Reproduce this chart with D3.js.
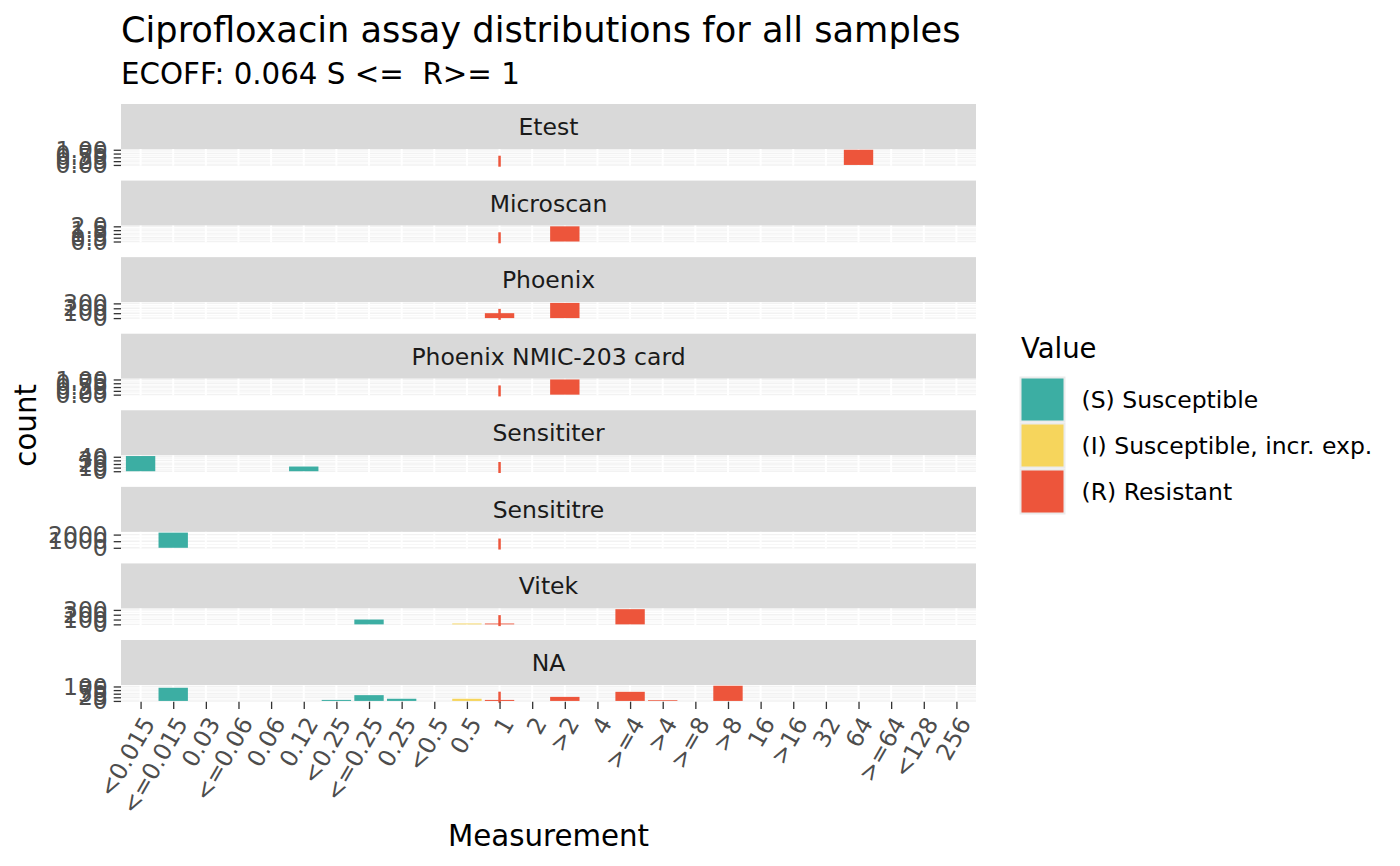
<!DOCTYPE html>
<html>
<head>
<meta charset="utf-8">
<script src="https://cdn.jsdelivr.net/npm/d3@7"></script>
<style>
  body { margin: 0; background: #fff; }
  svg text { font-family: "DejaVu Sans", sans-serif; }
</style>
</head>
<body>
<svg id="chart" width="1400" height="866"></svg>
<script>
"use strict";

// MIC categories on the x axis, in plotted order
const categories = ["<0.015", "<=0.015", "0.03", "<=0.06", "0.06", "0.12", "<0.25",
  "<=0.25", "0.25", "<0.5", "0.5", "1", "2", ">2", "4", ">=4", ">4", ">=8", ">8",
  "16", ">16", "32", "64", ">=64", "<128", "256"];

const assays = ["Etest", "Microscan", "Phoenix", "Phoenix NMIC-203 card",
  "Sensititer", "Sensititre", "Vitek", "NA"];

// counts per assay: [measurement, interpretation, count]
const etestCounts = [["64", "R", 1]];
const microscanCounts = [[">2", "R", 2]];
const phoenixCounts = [["1", "R", 100], [">2", "R", 310]];
const phoenixNmicCounts = [[">2", "R", 1]];
const sensititerCounts = [["<0.015", "S", 42], ["0.12", "S", 13]];
const sensititreCounts = [["<=0.015", "S", 2300]];
const vitekCounts = [["<=0.25", "S", 100], ["0.5", "I", 18], ["1", "R", 18], [">=4", "R", 315]];
const naCounts = [["<=0.015", "S", 91], ["<0.25", "S", 7], ["<=0.25", "S", 40],
  ["0.25", "S", 15], ["0.5", "I", 15], ["1", "R", 7], [">2", "R", 28],
  [">=4", "R", 63], [">4", "R", 5], [">8", "R", 105]];

const assayCounts = [etestCounts, microscanCounts, phoenixCounts, phoenixNmicCounts,
  sensititerCounts, sensititreCounts, vitekCounts, naCounts];

// y tick values and their label format per assay
const yTicks = [[0, 0.25, 0.5, 0.75, 1], [0, 0.5, 1, 1.5, 2], [0, 100, 200, 300],
  [0, 0.25, 0.5, 0.75, 1], [0, 10, 20, 30, 40], [0, 1000, 2000], [0, 100, 200, 300],
  [0, 25, 50, 75, 100]];
const yTickFormats = [".2f", ".1f", "d", ".2f", "d", "d", "d", "d"];

const interpretations = ["S", "I", "R"];
const interpretationLabels = ["(S) Susceptible", "(I) Susceptible, incr. exp.", "(R) Resistant"];
const interpretationColors = ["#3CAEA3", "#F6D55C", "#ED553B"];

const ecoffBreakpoint = "1";

const titleText = "Ciprofloxacin assay distributions for all samples";
const subtitleText = "ECOFF: 0.064 S <=  R>= 1";

// layout
const margins = {left: 121, right: 976, top: 104};
const facetStep = 76.57;
const stripHeight = 45;
const panelHeight = 16.7;

const svg = d3.select("#chart");

const color = d3.scaleOrdinal().domain(interpretations).range(interpretationColors);

const x = d3.scalePoint()
  .domain(categories)
  .range([margins.left, margins.right])
  .padding(0.6);
const barWidth = x.step() * 0.9;

// titles
svg.append("text")
  .attr("x", margins.left).attr("y", 42)
  .style("font-size", "35.2px").attr("fill", "#000")
  .text(titleText);

svg.append("text")
  .attr("x", margins.left).attr("y", 83.5)
  .style("font-size", "29.3px").style("white-space", "pre")
  .attr("xml:space", "preserve").attr("fill", "#000")
  .text(subtitleText);

let lastPanelBottom = 0;

assays.forEach((assay, i) => {
  const stripTop = margins.top + i * facetStep;
  const panelTop = stripTop + stripHeight;
  const panelBottom = panelTop + panelHeight;
  lastPanelBottom = panelBottom;

  const data = assayCounts[i];
  const maxCount = d3.max(data, d => d[2]);

  const y = d3.scaleLinear()
    .domain([-0.05 * maxCount, 1.05 * maxCount])
    .range([panelBottom, panelTop]);

  const g = svg.append("g");

  // strip
  g.append("rect")
    .attr("x", margins.left).attr("y", stripTop)
    .attr("width", margins.right - margins.left).attr("height", stripHeight)
    .attr("fill", "#D9D9D9");

  g.append("text")
    .attr("x", (margins.left + margins.right) / 2)
    .attr("y", stripTop + stripHeight / 2)
    .attr("dy", "0.365em")
    .attr("text-anchor", "middle")
    .style("font-size", "23.5px").attr("fill", "#1A1A1A")
    .text(assay);

  // grid
  const ticks = yTicks[i];
  const minor = ticks.slice(1).map((t, k) => (t + ticks[k]) / 2);

  g.append("g")
    .selectAll("line")
    .data(minor)
    .join("line")
    .attr("x1", margins.left).attr("x2", margins.right)
    .attr("y1", d => y(d)).attr("y2", d => y(d))
    .attr("stroke", "#F7F7F7").attr("stroke-width", 1);

  g.append("g")
    .selectAll("line")
    .data(ticks)
    .join("line")
    .attr("x1", margins.left).attr("x2", margins.right)
    .attr("y1", d => y(d)).attr("y2", d => y(d))
    .attr("stroke", "#F2F2F2").attr("stroke-width", 1.4);

  g.append("g")
    .selectAll("line")
    .data(categories)
    .join("line")
    .attr("x1", d => x(d)).attr("x2", d => x(d))
    .attr("y1", panelTop).attr("y2", panelBottom)
    .attr("stroke", "#FFFFFF").attr("stroke-width", 2);

  // bars
  g.append("g")
    .selectAll("rect")
    .data(data)
    .join("rect")
    .attr("x", d => x(d[0]) - barWidth / 2)
    .attr("width", barWidth)
    .attr("y", d => y(d[2]))
    .attr("height", d => y(0) - y(d[2]))
    .attr("fill", d => color(d[1]));

  // ECOFF line
  g.append("line")
    .attr("x1", x(ecoffBreakpoint)).attr("x2", x(ecoffBreakpoint))
    .attr("y1", panelBottom + 1).attr("y2", panelTop)
    .attr("stroke", "#ED553B").attr("stroke-width", 2.5)
    .attr("stroke-dasharray", "11,11");

  // y axis
  const yAxis = g.append("g")
    .attr("transform", `translate(${margins.left}, 0)`)
    .call(d3.axisLeft(y)
      .tickValues(ticks)
      .tickFormat(d3.format(yTickFormats[i]))
      .tickSize(7.3)
      .tickPadding(5.9));
  yAxis.select(".domain").remove();
  yAxis.selectAll("line").attr("stroke", "#333333").attr("stroke-width", 1.3);
  yAxis.selectAll("text")
    .attr("fill", "#4D4D4D")
    .style("font-size", "23.5px")
    .style("font-family", "DejaVu Sans");
});

// x axis
const xAxis = svg.append("g")
  .attr("transform", `translate(0, ${lastPanelBottom})`)
  .call(d3.axisBottom(x).tickSize(7.3).tickPadding(0));
xAxis.select(".domain").remove();
xAxis.selectAll("line").attr("stroke", "#333333").attr("stroke-width", 1.3);
xAxis.selectAll("text")
  .attr("fill", "#4D4D4D")
  .style("font-size", "23.5px")
  .style("font-family", "DejaVu Sans")
  .attr("text-anchor", "end")
  .attr("dy", null)
  .attr("y", null)
  .attr("transform", "translate(0, 13.2) rotate(-60) translate(0, 17)");

// axis titles
svg.append("text")
  .attr("x", (margins.left + margins.right) / 2)
  .attr("y", 846)
  .attr("text-anchor", "middle")
  .style("font-size", "29.3px").attr("fill", "#000")
  .text("Measurement");

svg.append("text")
  .attr("transform", `translate(36, ${(margins.top + stripHeight + lastPanelBottom) / 2}) rotate(-90)`)
  .attr("text-anchor", "middle")
  .style("font-size", "29.3px").attr("fill", "#000")
  .text("count");

// legend
const legend = svg.append("g").attr("transform", "translate(1020, 0)");

legend.append("text")
  .attr("x", 1).attr("y", 358)
  .style("font-size", "27.5px").attr("fill", "#000")
  .text("Value");

legend.selectAll("rect")
  .data(interpretations)
  .join("rect")
  .attr("x", 0.5)
  .attr("y", (d, k) => 377.5 + k * 46)
  .attr("width", 44)
  .attr("height", 44)
  .attr("fill", d => color(d))
  .attr("stroke", "#EBEBEB")
  .attr("stroke-width", 2);

legend.selectAll("text.label")
  .data(interpretationLabels)
  .join("text")
  .attr("class", "label")
  .attr("x", 61.5)
  .attr("y", (d, k) => 399.5 + k * 46)
  .attr("dy", "0.36em")
  .style("font-size", "23.5px").attr("fill", "#000")
  .text(d => d);
</script>
</body>
</html>
